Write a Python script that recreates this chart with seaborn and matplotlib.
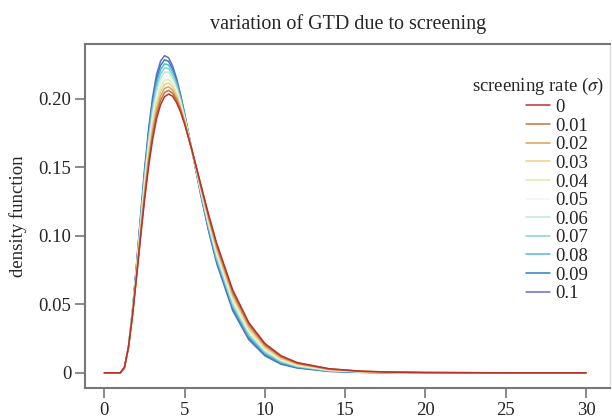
import pandas as pd
import seaborn as sns
import matplotlib.pyplot as plt

# time since infection (days) and GTD density for each screening rate
time = [0, 1, 1.25, 1.5, 1.75, 2, 2.25, 2.5, 2.75, 3, 3.25, 3.5, 3.75, 4, 4.25, 4.5, 4.75, 5,
        5.5, 6, 6.5, 7, 8, 9, 10, 11, 12, 14, 16, 18, 20, 25, 30]

gtd_000 = [0, 0, .0040, .0185, .0414, .0691, .0980, .1255, .1498, .1699, .1852, .1956, .2015, .2034, .2018,
           .1971, .1902, .1814, .1606, .1377, .1152, .0944, .0603, .0366, .0214, .0125, .0075, .0030, .0012,
           .0005, .0002, 0, 0]
gtd_001 = [0, 0, .0039, .0185, .0418, .0700, .0996, .1277, .1526, .1730, .1884, .1988, .2045, .2061, .2040,
           .1989, .1915, .1822, .1605, .1369, .1140, .0929, .0588, .0354, .0205, .0119, .0071, .0028, .0011,
           .0005, .0002, 0, 0]
gtd_002 = [0, 0, .0039, .0185, .0421, .0710, .1012, .1300, .1553, .1761, .1917, .2020, .2075, .2087, .2062,
           .2006, .1927, .1830, .1604, .1362, .1128, .0915, .0573, .0341, .0196, .0113, .0067, .0026, .0010,
           .0004, .0002, 0, 0]
gtd_003 = [0, 0, .0038, .0185, .0425, .0719, .1028, .1322, .1581, .1791, .1949, .2052, .2105, .2114, .2085,
           .2024, .1940, .1838, .1603, .1354, .1115, .0900, .0558, .0329, .0187, .0106, .0063, .0024, .0009,
           .0004, .0001, 0, 0]
gtd_004 = [0, 0, .0038, .0185, .0428, .0728, .1044, .1345, .1608, .1822, .1981, .2084, .2135, .2140, .2107,
           .2042, .1953, .1846, .1602, .1346, .1103, .0885, .0543, .0316, .0178, .0100, .0059, .0022, .0008,
           .0003, .0001, 0, 0]
gtd_005 = [0, 0, .0037, .0186, .0432, .0738, .1060, .1367, .1636, .1853, .2014, .2116, .2165, .2167, .2129,
           .2060, .1966, .1854, .1601, .1339, .1091, .0871, .0528, .0304, .0169, .0094, .0055, .0020, .0008,
           .0003, .0001, 0, 0]
gtd_006 = [0, 0, .0036, .0186, .0436, .0747, .1076, .1389, .1664, .1884, .2046, .2147, .2194, .2193, .2151,
           .2077, .1978, .1861, .1600, .1331, .1079, .0856, .0512, .0291, .0160, .0088, .0051, .0018, .0007,
           .0003, .0001, 0, 0]
gtd_007 = [0, 0, .0036, .0186, .0439, .0756, .1092, .1412, .1691, .1915, .2078, .2179, .2224, .2220, .2173,
           .2095, .1991, .1869, .1599, .1323, .1067, .0841, .0497, .0279, .0151, .0082, .0047, .0016, .0006,
           .0002, .0001, 0, 0]
gtd_008 = [0, 0, .0035, .0186, .0443, .0765, .1108, .1434, .1719, .1945, .2110, .2211, .2254, .2246, .2196,
           .2113, .2004, .1877, .1598, .1315, .1054, .0826, .0482, .0266, .0142, .0075, .0043, .0014, .0005,
           .0002, 0, 0, 0]
gtd_009 = [0, 0, .0035, .0186, .0446, .0775, .1124, .1457, .1746, .1976, .2143, .2243, .2284, .2273, .2218,
           .2130, .2016, .1885, .1597, .1308, .1042, .0812, .0467, .0254, .0133, .0069, .0039, .0012, .0004,
           .0001, 0, 0, 0]
gtd_010 = [0, 0, .0034, .0186, .0450, .0784, .1140, .1479, .1774, .2007, .2175, .2275, .2314, .2299, .2240,
           .2148, .2029, .1893, .1596, .1300, .1030, .0797, .0452, .0241, .0124, .0063, .0035, .0010, .0003,
           .0001, 0, 0, 0]

sigma_labels = ['0', '0.01', '0.02', '0.03', '0.04', '0.05',
                '0.06', '0.07', '0.08', '0.09', '0.1']
line_colors = ['#b8312f', '#c4713b', '#dba155', '#ecd08e', '#e3eab0', '#eef6ee',
               '#bde8d8', '#86d3cb', '#4fbccc', '#2f7ec0', '#6b6bc9']

x_ticks = [0, 5, 10, 15, 20, 25, 30]
y_ticks = [0, 0.05, 0.10, 0.15, 0.20]
y_tick_labels = ['0', '0.05', '0.10', '0.15', '0.20']

all_series = [gtd_000, gtd_001, gtd_002, gtd_003, gtd_004, gtd_005,
              gtd_006, gtd_007, gtd_008, gtd_009, gtd_010]
curves = pd.concat([
    pd.DataFrame({'time': time, 'density': vals, 'sigma': lab})
    for lab, vals in zip(sigma_labels, all_series)
])

sns.set_style('ticks')
plt.rcParams['font.family'] = ['Liberation Serif', 'DejaVu Serif']
plt.rcParams['mathtext.fontset'] = 'stix'

fig = plt.figure(figsize=(6.12, 4.18), dpi=100)
ax = fig.add_axes([0.139, 0.072, 0.858, 0.823])

# draw 0.1 first so the sigma = 0 curve sits on top, as in the original
for lab, col in reversed(list(zip(sigma_labels, line_colors))):
    sns.lineplot(
        data=curves[curves['sigma'] == lab],
        x='time', y='density',
        color=col, lw=1.1, label=lab, ax=ax,
    )

ax.set_xlim(-1.2, 31.5)
ax.set_ylim(-0.011, 0.240)
ax.set_xticks(x_ticks)
ax.set_xticklabels([str(t) for t in x_ticks])
ax.set_yticks(y_ticks)
ax.set_yticklabels(y_tick_labels)
ax.tick_params(axis='both', labelsize=13.5, length=7, width=1.2,
               color='#777777', direction='out', pad=3)

for side in ['left', 'bottom', 'top']:
    ax.spines[side].set_color('#777777')
    ax.spines[side].set_linewidth(1.5)
ax.spines['right'].set_color('#dddddd')
ax.spines['right'].set_linewidth(1.0)

ax.set_title('variation of GTD due to screening', fontsize=14.5, pad=11)
ax.set_xlabel('')
ax.set_ylabel('density function', fontsize=13.5, labelpad=8)

# legend title as its own text, right aligned; entries sit a bit to its left
ax.text(0.989, 0.875, r'screening rate ($\sigma$)', transform=ax.transAxes,
        ha='right', va='center', fontsize=13.5)
handles, labels = ax.get_legend_handles_labels()
ax.legend(
    handles[::-1], labels[::-1],
    loc='upper left', bbox_to_anchor=(0.84, 0.84),
    frameon=False, fontsize=13.5,
    labelspacing=0.08, handlelength=1.25, handletextpad=0.3,
    borderpad=0, borderaxespad=0,
)

plt.savefig('out.png', dpi=100)
plt.close()
